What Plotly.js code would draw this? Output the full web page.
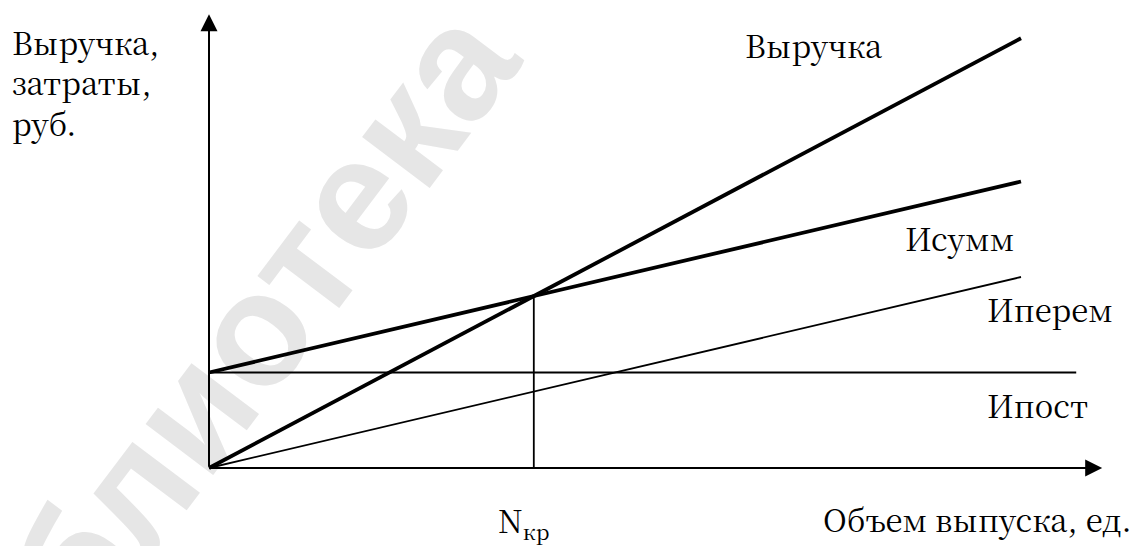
<!DOCTYPE html>
<html>
<head>
<meta charset="utf-8">
<script src="https://cdn.plot.ly/plotly-3.0.1.min.js"></script>
<style>
  html, body { margin: 0; padding: 0; background: #ffffff; }
  #chart { width: 1136px; height: 546px; }
</style>
</head>
<body>
<div id="chart"></div>
<script>
// ---- Data ----
const volume        = [0, 10];      // output volume, units
const revenue       = [0, 45];      // Выручка
const totalCost     = [10, 30];     // Исумм
const variableCost  = [0, 20];      // Иперем
const fixedVolume   = [0, 10.68];
const fixedCost     = [10, 10];     // Ипост
const breakEvenVolume = 4;          // N кр
const breakEvenValue  = 18;
const axisEndX = 11.0;
const axisEndY = 47.5;

const seriesLabels = ['Выручка', 'Исумм', 'Иперем', 'Ипост'];
const yAxisTitleLines = ['Выручка,', 'затраты,', 'руб.'];
const xAxisTitle = 'Объем выпуска, ед.';
const breakEvenLabel = 'N<sub>кр</sub>';
const watermark = 'Библиотека';

// ---- Layout helpers (pixel -> paper) ----
const W = 1136, H = 546;
const px = x => x / W;
const py = y => 1 - y / H;
const FONT = 'Noto Serif CJK SC';
const FS = 31;
const BASE = 13.4;   // baseline offset below the text box centre

const black = '#000000';
const traces = [
  { x: volume, y: revenue, mode: 'lines', line: { color: black, width: 3.8 }, name: seriesLabels[0] },
  { x: volume, y: totalCost, mode: 'lines', line: { color: black, width: 3.8 }, name: seriesLabels[1] },
  { x: volume, y: variableCost, mode: 'lines', line: { color: black, width: 1.8 }, name: seriesLabels[2] },
  { x: fixedVolume, y: fixedCost, mode: 'lines', line: { color: black, width: 1.8 }, name: seriesLabels[3] },
  { x: [breakEvenVolume, breakEvenVolume], y: [0, breakEvenValue], mode: 'lines', line: { color: black, width: 1.8 }, name: 'Nкр' }
];

// label placed by its left/right edge and its (middle line) baseline, in pixels
function label(text, xp, baseline, xanchor) {
  return {
    text: text, xref: 'paper', yref: 'paper', x: px(xp), y: py(baseline - BASE),
    xanchor: xanchor, yanchor: 'middle', align: 'left', showarrow: false,
    font: { family: FONT, size: FS, color: black }
  };
}

// watermark centre and direction (drawn beneath the chart lines)
const wmX = 186, wmY = 394, wmAng = 53 * Math.PI / 180;
const wmShape = {
  type: 'line', layer: 'below', xref: 'paper', yref: 'paper',
  x0: px(wmX - 100 * Math.cos(wmAng)), y0: py(wmY + 100 * Math.sin(wmAng)),
  x1: px(wmX + 100 * Math.cos(wmAng)), y1: py(wmY - 100 * Math.sin(wmAng)),
  line: { color: 'rgba(0,0,0,0)', width: 0 },
  label: {
    text: watermark, textposition: 'middle', textangle: -53,
    xanchor: 'center', yanchor: 'middle', padding: 0,
    font: { family: 'Liberation Sans', size: 160, color: '#e6e6e6', weight: 'bold' }
  }
};

const annotations = [
  // axis arrows
  { x: 0, y: axisEndY, ax: 0, ay: 0, xref: 'x', yref: 'y', axref: 'x', ayref: 'y', text: '',
    showarrow: true, arrowhead: 2, arrowsize: 1.7, arrowwidth: 2, arrowcolor: black, standoff: 0, startstandoff: 0 },
  { x: axisEndX, y: 0, ax: 0, ay: 0, xref: 'x', yref: 'y', axref: 'x', ayref: 'y', text: '',
    showarrow: true, arrowhead: 2, arrowsize: 1.7, arrowwidth: 2, arrowcolor: black, standoff: 0, startstandoff: 0 },
  // y axis title (three lines)
  label(yAxisTitleLines.join('<br>'), 10, 95, 'left'),
  // series labels
  label(seriesLabels[0], 884, 58, 'right'),
  label(seriesLabels[1], 903, 251, 'left'),
  label(seriesLabels[2], 985, 322, 'left'),
  label(seriesLabels[3], 985, 418, 'left'),
  // x axis labels
  label(breakEvenLabel, 496, 535, 'left'),
  label(xAxisTitle, 821, 532, 'left')
];

const layout = {
  width: W, height: H,
  margin: { l: 0, r: 0, t: 0, b: 0, pad: 0 },
  paper_bgcolor: '#ffffff', plot_bgcolor: 'rgba(0,0,0,0)',
  showlegend: false, hovermode: false,
  xaxis: { range: [-209 / 81.2, (W - 209) / 81.2], visible: false, fixedrange: true },
  yaxis: { range: [-(H - 468) / 9.55, 468 / 9.55], visible: false, fixedrange: true },
  shapes: [wmShape],
  annotations: annotations
};

Plotly.newPlot('chart', traces, layout, { staticPlot: true, displayModeBar: false });
</script>
</body>
</html>
